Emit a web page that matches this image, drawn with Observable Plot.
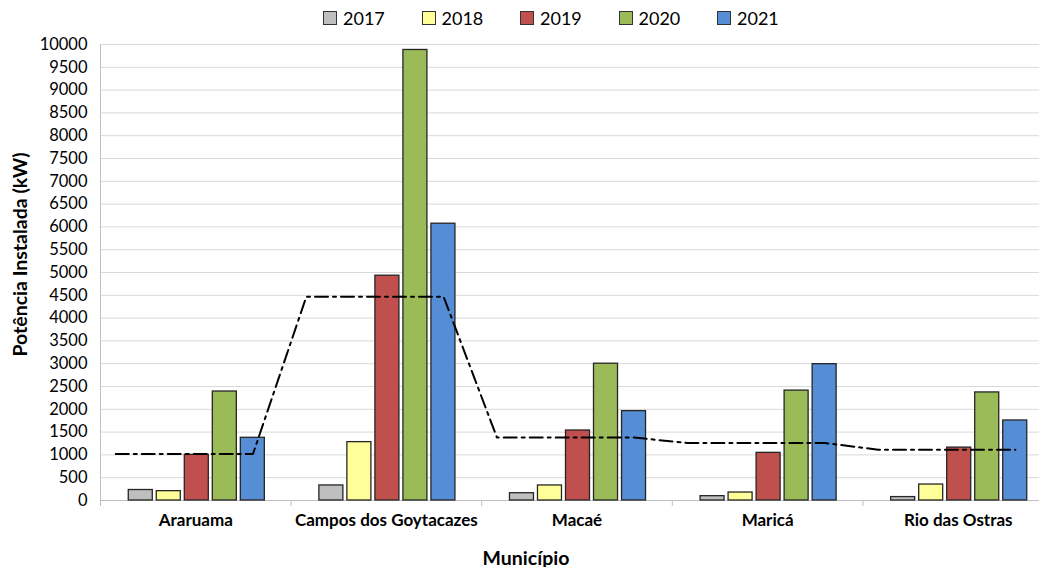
<!DOCTYPE html>
<html><head><meta charset="utf-8">
<script src="https://cdn.jsdelivr.net/npm/d3@7"></script>
<script src="https://cdn.jsdelivr.net/npm/@observablehq/plot@0.6"></script>
<style>
html,body{margin:0;padding:0;background:#fff;overflow:hidden;font-family:Lato,"Liberation Sans",sans-serif}
#legend{height:36px;display:flex;align-items:center;padding-left:323px;box-sizing:border-box}
.item{width:98.5px;display:flex;align-items:center;font-size:18px;color:#000}
.sw{width:12px;height:12px;border:1px solid #333;margin-right:6px}
#chart svg{display:block;overflow:visible;max-width:none !important}
</style></head><body>
<div id="legend"></div>
<div id="chart"></div>
<script>
const municipios = ["Araruama", "Campos dos Goytacazes", "Macaé", "Maricá", "Rio das Ostras"];
const anos = ["2017", "2018", "2019", "2020", "2021"];
const cores = ["#bfbfbf", "#ffff99", "#c0504d", "#9bbb59", "#558ed5"];
const v2017 = [230, 330, 160, 95, 75];
const v2018 = [205, 1280, 330, 175, 350];
const v2019 = [1000, 4930, 1535, 1045, 1160];
const v2020 = [2390, 9880, 3000, 2410, 2370];
const v2021 = [1375, 6070, 1960, 2990, 1755];
const media = [1020, 4470, 1380, 1260, 1115];
const yTicks = d3.range(0, 10001, 500);

const series = [v2017, v2018, v2019, v2020, v2021];

// legend
const leg = document.getElementById("legend");
anos.forEach((a, j) => {
  const it = document.createElement("div"); it.className = "item";
  const sw = document.createElement("div"); sw.className = "sw"; sw.style.background = cores[j];
  const t = document.createElement("span"); t.textContent = a;
  it.appendChild(sw); it.appendChild(t); leg.appendChild(it);
});

const step = 28 / 190.5, bw = 24 / 190.5, off = 1 / 190.5;
const bars = [];
municipios.forEach((m, i) => {
  anos.forEach((a, j) => {
    const c = i + (j - 2) * step + off;
    bars.push({m, ano: a, x1: c - bw / 2, x2: c + bw / 2, v: series[j][i]});
  });
});
const linePts = [];
municipios.forEach((m, i) => {
  linePts.push({x: i - 0.42, y: media[i]});
  linePts.push({x: i + 0.30, y: media[i]});
});

const chart = Plot.plot({
  width: 1054, height: 531,
  marginLeft: 100, marginRight: 1, marginTop: 8, marginBottom: 67,
  style: {fontFamily: "Lato, 'Liberation Sans', sans-serif", fontSize: "16px", color: "#000", background: "#fff"},
  x: {type: "linear", domain: [-0.5, 4.5]},
  y: {domain: [0, 10000]},
  color: {domain: anos, range: cores},
  marks: [
    Plot.gridY(yTicks, {stroke: "#d9d9d9", strokeOpacity: 1}),
    Plot.ruleY([0], {stroke: "#bfbfbf"}),
    Plot.ruleX([-0.5], {stroke: "#bfbfbf"}),
    Plot.axisY(yTicks, {tickSize: 0, tickPadding: 13, fontSize: 16.5, tickFormat: d => String(d), label: null}),
    Plot.axisX(d3.range(-0.5, 5, 1), {tickSize: 6, tickFormat: () => "", stroke: "#bfbfbf", label: null}),
    Plot.axisX(d3.range(0, 5), {tickSize: 0, tickPadding: 13, fontWeight: "bold", fontSize: 17,
      tickFormat: i => municipios[i], label: null}),
    Plot.rectY(bars, {x1: "x1", x2: "x2", y: "v", fill: "ano", stroke: "#262626", strokeWidth: 1.3}),
    Plot.line(linePts, {x: "x", y: "y", stroke: "#000", strokeWidth: 2, strokeDasharray: "13,5,3,5"}),
    Plot.text(["Potência Instalada (kW)"], {frameAnchor: "left", rotate: -90, dx: -80, dy: -18,
      lineAnchor: "middle", textAnchor: "middle", fontWeight: "bold", fontSize: 19.5}),
    Plot.text(["Município"], {frameAnchor: "bottom", lineAnchor: "middle", dx: -51, dy: 58, fontWeight: "bold", fontSize: 19.5})
  ]
});
document.getElementById("chart").appendChild(chart);
</script>
</body></html>
